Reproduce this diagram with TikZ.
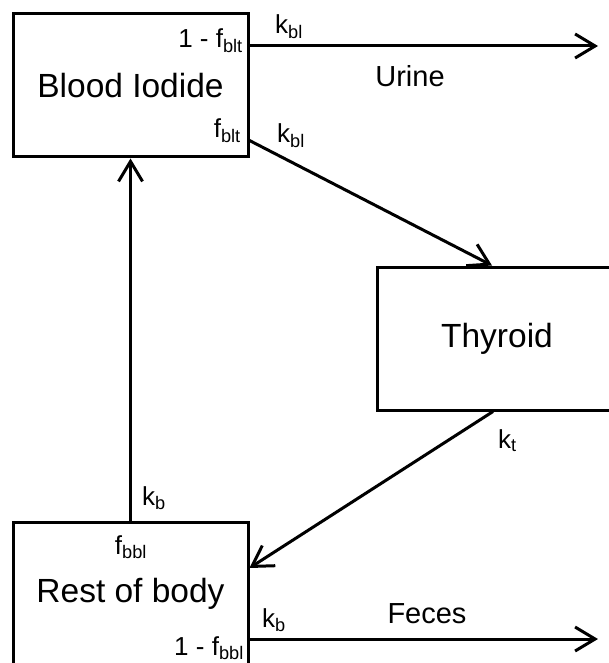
\documentclass[tikz,border=0pt]{standalone}
\usepackage{fontspec}
\setmainfont{Liberation Sans}
\usetikzlibrary{positioning,arrows.meta}

\begin{document}
\begin{tikzpicture}[
    x=1pt, y=-1pt,
    comp/.style={draw, line width=3pt, minimum width=235pt, minimum height=143pt, inner sep=0pt, font=\fontsize{33.5}{38}\selectfont},
    flow/.style={-{Straight Barb[length=20pt,width=24pt]}, line width=3pt},
    rate/.style={inner sep=0pt, font=\fontsize{26}{30}\selectfont},
    route/.style={inner sep=0pt, font=\fontsize{29}{34}\selectfont}
]
\useasboundingbox (0,0) rectangle (609,663);
\node[comp] (blood) at (130.5,85.5) {Blood Iodide};
\node[comp, minimum width=240pt] (thyroid) at (497,338.5) {Thyroid};
\node[comp] (rest) at (130.5,593.5) {Rest of body};
\coordinate (urine end) at (598,46);
\coordinate (feces end) at (598,639);
\draw[flow] (blood.east |- urine end) -- (urine end);
\draw[flow] ([yshift=18pt]blood.south east) -- ([xshift=-5pt]thyroid.north);
\draw[flow] ([xshift=-4pt]thyroid.south) -- ([yshift=25.5pt]rest.east);
\draw[flow] (rest.north) -- (blood.south);
\draw[flow] (rest.east |- feces end) -- (feces end);
% fractions and rates
\node[rate, anchor=base east] (fout) at (243,48) {1 - f\textsubscript{blt}};
\node[rate, anchor=base east] (fthy) at (241,138) {f\textsubscript{blt}};
\node[rate, anchor=base west] (kurine) at (275,34) {k\textsubscript{bl}};
\node[rate, anchor=base west] (kthy) at (277,143) {k\textsubscript{bl}};
\node[rate, anchor=base west] (kt) at (498,448) {k\textsubscript{t}};
\node[rate, anchor=base west] (kback) at (142,505) {k\textsubscript{b}};
\node[rate, anchor=base] (fback) at (131,554) {f\textsubscript{bbl}};
\node[rate, anchor=base west] (kfeces) at (262,627) {k\textsubscript{b}};
\node[rate, anchor=base east] (ffeces) at (244,655) {1 - f\textsubscript{bbl}};
\node[route, anchor=base] (urine) at (410,87) {Urine};
\node[route, anchor=base] (feces) at (427,623) {Feces};
\end{tikzpicture}
\end{document}
